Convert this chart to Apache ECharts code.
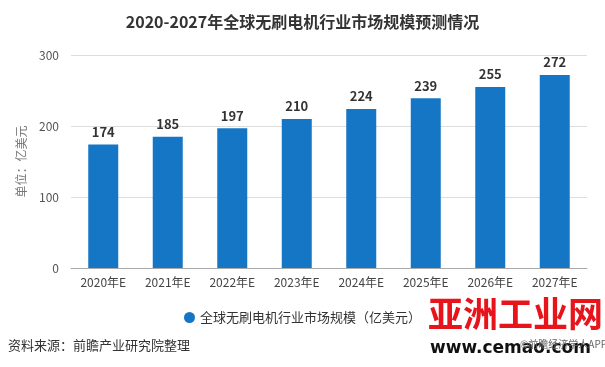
<!DOCTYPE html>
<html><head><meta charset="utf-8">
<script src="https://cdn.jsdelivr.net/npm/echarts@6/dist/echarts.min.js"></script>
<style>html,body{margin:0;padding:0;background:#fff}#c{width:605px;height:367px}</style>
</head><body><div id="c"></div>
<script>
const categories = ['2020年E','2021年E','2022年E','2023年E','2024年E','2025年E','2026年E','2027年E'];
const marketSize = [174,185,197,210,224,239,255,272];
const seriesName = '全球无刷电机行业市场规模（亿美元）';
const titleText = '2020-2027年全球无刷电机行业市场规模预测情况';
const yAxisName = '单位：亿美元';
const sourceText = '资料来源：前瞻产业研究院整理';

const FONT = '"Noto Sans CJK SC","Microsoft YaHei",sans-serif';
const chart = echarts.init(document.getElementById('c'));
chart.setOption({
  animation:false,
  textStyle:{fontFamily:FONT},
  title:{text:titleText,left:'center',top:9,textStyle:{fontSize:16,fontWeight:'bold',color:'#333',fontFamily:FONT}},
  grid:{left:71,right:18,top:55,bottom:99},
  legend:{bottom:38,left:'center',itemWidth:11,itemHeight:11,icon:'circle',itemGap:10,
    textStyle:{fontSize:13,color:'#333'},data:[seriesName]},
  xAxis:{type:'category',data:categories,
    axisLine:{lineStyle:{color:'#aaa'}},axisTick:{alignWithLabel:true,length:5,lineStyle:{color:'#aaa'}},
    axisLabel:{fontSize:12,color:'#444',margin:8}},
  yAxis:{type:'value',min:0,max:300,interval:100,
    name:yAxisName,nameLocation:'middle',nameGap:44,nameRotate:90,
    nameTextStyle:{fontSize:12,color:'#777'},
    axisLine:{show:false},axisTick:{show:false},
    axisLabel:{fontSize:12,color:'#555',margin:12},
    splitLine:{lineStyle:{color:'#ddd'}}},
  series:[{name:seriesName,type:'bar',data:marketSize,barWidth:30,
    itemStyle:{color:'#1576c6'},
    label:{show:true,position:'top',fontSize:13,fontWeight:'bold',color:'#333',distance:6}}],
  graphic:[
    {type:'text',left:8,top:339,style:{text:sourceText,fontSize:13,fill:'#333',fontFamily:FONT}},
    {type:'text',left:428,top:296,style:{text:'亚洲工业网',fontSize:35,fontWeight:'bold',fill:'#e8141c',fontFamily:FONT}},
    {type:'text',left:430,top:340,style:{text:'www.cemao.com',fontSize:17,fontWeight:'bold',fill:'#111',fontFamily:'"DejaVu Sans",sans-serif'}},
    {type:'text',left:520,top:339,style:{text:'©前瞻经济学人APP',fontSize:10,fill:'#666',fontFamily:FONT}}
  ]
});
</script></body></html>
